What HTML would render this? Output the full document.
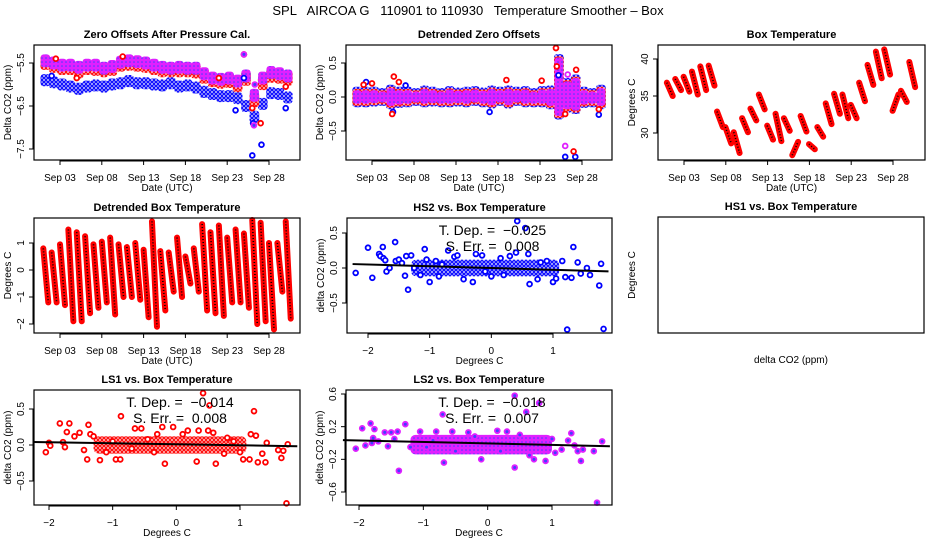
<!DOCTYPE html>
<html><head><meta charset="utf-8"><style>
body{margin:0;background:#fff}
svg{display:block;font-family:"Liberation Sans",sans-serif}
</style></head><body>
<svg id="c" width="936" height="540" viewBox="0 0 936 540" xmlns="http://www.w3.org/2000/svg">
<defs>
<pattern id="pRed" width="4" height="4" patternUnits="userSpaceOnUse"><rect width="4" height="4" fill="#fff"/><circle cx="2" cy="2" r="1.4" fill="none" stroke="#ff0000" stroke-width="1.2"/></pattern>
<pattern id="pBlue" width="4" height="4" patternUnits="userSpaceOnUse"><rect width="4" height="4" fill="#fff"/><circle cx="2" cy="2" r="1.4" fill="none" stroke="#0000ff" stroke-width="1.2"/></pattern>
<pattern id="pPur" width="4" height="4" patternUnits="userSpaceOnUse"><rect width="4" height="4" fill="#e020ff"/><circle cx="2" cy="2" r="0.8" fill="#4040ff"/></pattern>
</defs>
<text x="468" y="15" text-anchor="middle" font-size="13" style="white-space:pre">SPL   AIRCOA G   110901 to 110930   Temperature Smoother – Box</text>
</svg>
<script>
// ---------- data ----------
const dayTicks=[3,8,13,18,23,28];
const dayTickLabels=["Sep 03","Sep 08","Sep 13","Sep 18","Sep 23","Sep 28"];
const days=[1,2,3,4,5,6,7,8,9,10,11,12,13,14,15,16,17,18,19,20,21,22,23,24,25,26,27,28,29,30];
// panel 1 zero offsets (daily centers, ppm)
const zoPurple=[-5.45,-5.5,-5.55,-5.55,-5.6,-5.55,-5.55,-5.62,-5.58,-5.48,-5.45,-5.47,-5.5,-5.55,-5.6,-5.62,-5.6,-5.62,-5.62,-5.75,-5.85,-5.88,-5.85,-5.92,-5.8,-6.25,-5.85,-5.72,-5.75,-5.8];
const zoRed=[-5.48,-5.55,-5.6,-5.6,-5.68,-5.6,-5.62,-5.65,-5.62,-5.52,-5.5,-5.52,-5.55,-5.6,-5.65,-5.65,-5.65,-5.65,-5.68,-5.8,-5.88,-5.92,-5.9,-6.0,-5.85,-6.35,-5.95,-5.78,-5.8,-5.85];
const zoBlue=[-5.9,-5.95,-6.0,-6.05,-6.1,-6.05,-6.02,-6.05,-6.0,-5.97,-5.92,-5.97,-5.97,-6.0,-6.02,-5.97,-6.05,-6.02,-6.07,-6.17,-6.22,-6.27,-6.27,-6.32,-6.5,-6.75,-6.45,-6.2,-6.22,-6.3];
const zoBlueOutX=[26.0,27.1,24.0,26.1,30.0,25.0,2.0];
const zoBlueOutY=[-7.65,-7.4,-6.6,-6.9,-6.55,-5.85,-5.8];
const zoRedOutX=[26.0,27.0,22.0,5.0,2.5,10.5,25.0,30.0];
const zoRedOutY=[-6.55,-6.9,-5.85,-5.85,-5.4,-5.35,-5.3,-6.05];
const zoPurOutX=[25.0,26.2,26.3];
const zoPurOutY=[-5.3,-6.95,-6.0];
// panel 2 detrended (daily low/high)
const dtLow=[-0.12,-0.12,-0.11,-0.1,-0.15,-0.13,-0.12,-0.1,-0.12,-0.11,-0.12,-0.12,-0.11,-0.12,-0.1,-0.12,-0.14,-0.1,-0.14,-0.1,-0.12,-0.12,-0.12,-0.15,-0.3,-0.2,-0.22,-0.13,-0.12,-0.15];
const dtHigh=[0.12,0.12,0.12,0.1,0.15,0.12,0.12,0.1,0.14,0.12,0.1,0.13,0.11,0.12,0.13,0.11,0.14,0.12,0.14,0.12,0.13,0.1,0.13,0.14,0.6,0.25,0.3,0.12,0.1,0.15];
const dtRedOutX=[5.4,5.6,6.2,3.0,2.0,24.9,25.0,26.0,27.0,27.3,30.0,19.0,23.2];
const dtRedOutY=[-0.25,0.3,0.22,0.2,0.18,0.72,0.45,-0.25,-0.8,0.4,-0.18,0.25,0.24];
const dtBlueOutX=[26.0,27.2,25.2,2.3,5.5,30.0,17.0,7.0];
const dtBlueOutY=[-0.88,-0.88,0.32,0.22,-0.22,-0.26,-0.22,0.17];
const dtPurOutX=[26.0,26.3];
const dtPurOutY=[-0.72,0.33];
// panel 3 box temperature (daily start/end)
const btStart=[36.8,37.3,37.6,38.3,39.0,39.1,32.9,30.8,30.1,32.0,33.3,35.2,31.0,32.6,32.0,27.0,32.3,28.5,30.8,34.0,35.3,35.2,33.8,36.8,39.2,41.0,41.3,33.0,35.7,39.6];
const btEnd=[35.0,35.8,35.6,35.2,35.8,36.4,30.8,28.6,27.3,30.1,31.7,33.2,29.1,28.9,30.3,28.8,30.2,27.8,29.5,31.2,32.6,32.0,32.0,34.3,36.5,37.4,37.9,35.2,34.2,36.2];
// panel 4 detrended box temp (daily high/low)
const dbHigh=[0.8,0.65,0.95,1.5,1.4,1.25,0.95,1.05,1.2,0.95,0.85,1.0,0.75,1.8,0.7,0.65,1.2,0.5,0.8,1.7,1.4,1.65,1.2,1.5,1.35,1.85,1.75,1.0,1.0,1.8];
const dbLow=[-1.2,-1.2,-1.3,-1.9,-1.9,-1.6,-1.4,-1.2,-1.65,-1.0,-1.0,-1.1,-1.75,-2.1,-1.5,-0.8,-1.0,-0.5,-0.8,-1.5,-1.6,-1.7,-1.2,-1.2,-1.4,-2.0,-1.9,-2.2,-0.8,-1.8];
// HS2 scatter
const hsX=[-2.2,-2.0,-1.93,-1.82,-1.8,-1.76,-1.75,-1.72,-1.7,-1.65,-1.56,-1.55,-1.5,-1.45,-1.4,-1.38,-1.35,-1.3,-1.25,-1.15,-1.08,-1.05,-1.0,-0.9,-0.7,-0.6,-0.55,-0.45,-0.3,-0.25,-0.15,0.0,0.15,0.3,0.4,0.42,0.55,0.6,0.62,0.75,0.9,1.0,1.05,1.15,1.2,1.23,1.3,1.33,1.4,1.45,1.6,1.75,1.78,1.82,1.55,-0.85,-0.8,0.8,0.2,-0.1];
const hsY=[-0.07,0.29,-0.14,0.2,0.17,0.3,0.14,0.11,-0.05,0.0,0.37,0.1,0.12,0.07,-0.11,0.17,-0.31,0.18,0.0,-0.1,0.27,0.12,-0.2,0.1,0.25,0.16,0.18,-0.16,-0.2,0.2,0.18,-0.12,0.14,0.17,0.22,0.67,0.57,0.2,-0.23,-0.16,0.1,-0.2,-0.15,0.1,-0.13,-0.88,-0.14,0.3,0.08,-0.08,-0.1,-0.25,0.06,-0.87,0.0,-0.12,0.05,0.08,-0.1,-0.05];
const hsCoreX=[-1.3,1.1], hsCoreY=[-0.12,0.12];
const hsFit=[0.0,-0.025], hsText=["T. Dep. =  −0.025","S. Err. =  0.008"];
// LS1 scatter
const l1X=[-2.05,-2.0,-1.98,-1.83,-1.78,-1.75,-1.72,-1.68,-1.6,-1.52,-1.45,-1.4,-1.38,-1.35,-1.3,-1.2,-1.1,-0.95,-0.88,-0.87,-0.65,-0.55,-0.35,-0.3,-0.22,-0.18,-0.05,0.18,0.32,0.35,0.42,0.5,0.52,0.58,0.62,0.75,0.8,1.0,1.05,1.15,1.17,1.22,1.25,1.28,1.35,1.4,1.42,1.6,1.65,1.68,1.75,1.73,0.1,-0.45,0.9,-1.0,-0.7];
const l1Y=[-0.1,0.03,-0.01,0.3,0.04,-0.03,0.18,0.3,0.12,0.17,-0.07,-0.2,0.28,0.15,0.12,-0.21,-0.1,-0.2,-0.2,0.4,0.23,0.23,-0.1,0.15,0.25,-0.26,0.25,0.2,-0.23,0.2,0.72,0.2,0.55,0.17,-0.26,-0.12,0.1,-0.1,-0.2,-0.2,0.15,0.47,0.13,-0.24,-0.12,-0.24,0.03,-0.07,-0.18,-0.08,0.01,-0.81,0.15,0.08,0.05,0.05,-0.05];
const l1CoreX=[-1.3,1.1], l1CoreY=[-0.12,0.12];
const l1Fit=[0.01,-0.014], l1Text=["T. Dep. =  −0.014","S. Err. =  0.008"];
// LS2 scatter
const l2X=[-2.05,-1.95,-1.9,-1.82,-1.8,-1.78,-1.76,-1.7,-1.6,-1.55,-1.5,-1.45,-1.4,-1.38,-1.28,-1.2,-1.05,-0.95,-0.8,-0.7,-0.68,-0.55,-0.5,-0.3,-0.1,0.15,0.2,0.3,0.42,0.42,0.6,0.8,0.65,0.72,0.9,1.05,1.15,1.25,1.3,1.35,1.4,1.45,1.48,1.65,1.7,1.78,-0.85,0.5,-0.2,1.0];
const l2Y=[-0.07,0.18,-0.03,0.24,0.0,0.06,0.17,0.02,0.13,-0.04,0.13,0.05,0.14,-0.34,0.23,-0.05,0.14,-0.05,0.14,0.35,-0.24,0.14,-0.1,0.13,-0.2,0.15,-0.1,0.14,0.58,-0.3,0.38,0.49,-0.15,-0.2,-0.22,-0.12,-0.08,0.03,0.12,-0.03,-0.1,-0.22,-0.08,-0.1,-0.73,0.02,0.03,0.1,0.08,0.05];
const l2CoreX=[-1.2,1.0], l2CoreY=[-0.14,0.1];
const l2Fit=[-0.005,-0.018], l2Text=["T. Dep. =  −0.018","S. Err. =  0.007"];

// ---------- drawing ----------
const svg=document.getElementById('c');
const NS='http://www.w3.org/2000/svg';
function mk(tag,attrs,parent,txt){const e=document.createElementNS(NS,tag);for(const k in attrs)e.setAttribute(k,attrs[k]);if(txt!==undefined)e.textContent=txt;(parent||svg).appendChild(e);return e;}
function lin(d0,d1,p0,p1){return v=>p0+(v-d0)*(p1-p0)/(d1-d0);}

function panel(name,P,title){
  const g=mk('g',{});
  
  
  const t=mk('text',{x:(P.L+P.R)/2,y:P.T-7,'text-anchor':'middle','font-size':11,'font-weight':'bold'},g,title);
  
  
  return g;
}
function frame(g,P,name){
  const r=mk('rect',{x:P.L,y:P.T,width:P.R-P.L,height:P.B-P.T,fill:'none',stroke:'#000','stroke-width':1.2},g);
  
  
}
function xAxis(g,P,sx,vals,labels,title,name){
  const a=mk('g',{},g);
  
  
  const xs=vals.map(sx);
  mk('line',{x1:xs[0],x2:xs[xs.length-1],y1:P.B+1,y2:P.B+1,stroke:'#000'},a);
  vals.forEach((v,i)=>{const x=sx(v);mk('line',{x1:x,x2:x,y1:P.B,y2:P.B+5,stroke:'#000'},a);
    mk('text',{x:x,y:P.B+21,'text-anchor':'middle','font-size':10},a,labels[i]);});
  const t=mk('text',{x:(P.L+P.R)/2,y:P.B+31,'text-anchor':'middle','font-size':10},g,title);
  
  
}
function yAxis(g,P,sy,vals,labels,title,name){
  const a=mk('g',{},g);
  
  
  if(vals.length){
  const ys=vals.map(sy);
  mk('line',{x1:P.L-1,x2:P.L-1,y1:ys[0],y2:ys[ys.length-1],stroke:'#000'},a);
  vals.forEach((v,i)=>{const y=sy(v);mk('line',{x1:P.L-5,x2:P.L,y1:y,y2:y,stroke:'#000'},a);
    mk('text',{x:P.L-10,y:y,'text-anchor':'middle','font-size':10,transform:`rotate(-90 ${P.L-10} ${y})`},a,labels[i]);});
  }
  const cx=P.L-23, cy=(P.T+P.B)/2;
  const t=mk('text',{x:cx,y:cy,'text-anchor':'middle','font-size':10,transform:`rotate(-90 ${cx} ${cy})`},g,title);
  
  
}
function pts(g,xs,ys,sx,sy,color,name,fill){
  const s=mk('g',{},g);
  
  
  xs.forEach((x,i)=>{mk('circle',{cx:sx(x),cy:sy(ys[i]),r:2.4,fill:fill||'#fff',stroke:color,'stroke-width':1.8},s);});
}
function band(g,ds,lo,hi,sx,sy,pat,name,hw){
  const s=mk('g',{},g);
  
  
  ds.forEach((d,i)=>{const x0=sx(d+0.25-hw),x1=sx(d+0.25+hw);const y0=sy(hi[i]),y1=sy(lo[i]);
    mk('rect',{x:x0,y:y0,width:x1-x0,height:Math.max(2,y1-y0),fill:`url(#${pat})`,rx:3},s);});
}

// Panel 1
{const P={L:34,R:300,T:45,B:160};const sx=lin(3,28,60,269),sy=lin(-5.5,-7.5,63,149);
 const g=panel('zero-offsets-panel',P,'Zero Offsets After Pressure Cal.');
 band(g,days,zoBlue.map(v=>v-0.14),zoBlue.map(v=>v+0.14),sx,sy,'pBlue','hs2-series',0.58);
 band(g,days,zoRed.map(v=>v-0.18),zoRed.map(v=>v+0.17),sx,sy,'pRed','ls1-series',0.58);
 band(g,days,zoPurple.map(v=>v-0.15),zoPurple.map(v=>v+0.15),sx,sy,'pPur','ls2-series',0.55);
 pts(g,zoBlueOutX,zoBlueOutY,sx,sy,'#0000ff','hs2-outliers');
 pts(g,zoRedOutX,zoRedOutY,sx,sy,'#ff0000','ls1-outliers');
 pts(g,zoPurOutX,zoPurOutY,sx,sy,'#e020ff','ls2-outliers','#4040ff');
 frame(g,P,'zero-offsets');
 xAxis(g,P,sx,dayTicks,dayTickLabels,'Date (UTC)','zero-offsets');
 yAxis(g,P,sy,[-5.5,-6.5,-7.5],['−5.5','−6.5','−7.5'],'Delta CO2 (ppm)','zero-offsets');}

// Panel 2
{const P={L:346,R:612,T:45,B:160};const sx=lin(3,28,372,582),sy=lin(0,0.5,97,63);
 const g=panel('detrended-offsets-panel',P,'Detrended Zero Offsets');
 band(g,days,dtLow.map(v=>v-0.03),dtHigh.map(v=>v+0.03),sx,sy,'pBlue','hs2-detrended',0.58);
 band(g,days,dtLow.map(v=>v-0.01),dtHigh,sx,sy,'pRed','ls1-detrended',0.58);
 band(g,days,dtLow.map(v=>v+0.02),dtHigh.map(v=>v-0.02),sx,sy,'pPur','ls2-detrended',0.52);
 pts(g,dtBlueOutX,dtBlueOutY,sx,sy,'#0000ff','hs2-detrended-outliers');
 pts(g,dtRedOutX,dtRedOutY,sx,sy,'#ff0000','ls1-detrended-outliers');
 pts(g,dtPurOutX,dtPurOutY,sx,sy,'#e020ff','ls2-detrended-outliers');
 frame(g,P,'detrended-offsets');
 xAxis(g,P,sx,dayTicks,dayTickLabels,'Date (UTC)','detrended-offsets');
 yAxis(g,P,sy,[0.5,0,-0.5],['0.5','0.0','−0.5'],'Delta CO2 (ppm)','detrended-offsets');}

// Panel 3
{const P={L:658,R:925,T:45,B:160};const sx=lin(3,28,684,893),sy=lin(40,30,59,133);
 const g=panel('box-temperature-panel',P,'Box Temperature');
 const s=mk('g',{},g);
 
 
 days.forEach((d,i)=>{const x0=sx(d-0.05),x1=sx(d+0.65),y0=sy(btStart[i]),y1=sy(btEnd[i]);
   mk('line',{x1:x0,y1:y0,x2:x1,y2:y1,stroke:'#ff0000','stroke-width':6,'stroke-linecap':'round'},s);
   mk('line',{x1:x0,y1:y0,x2:x1,y2:y1,stroke:'#000','stroke-width':1.6,'stroke-dasharray':'1 2'},s);});
 frame(g,P,'box-temperature');
 xAxis(g,P,sx,dayTicks,dayTickLabels,'Date (UTC)','box-temperature');
 yAxis(g,P,sy,[30,35,40],['30','35','40'],'Degrees C','box-temperature');}

// Panel 4
{const P={L:34,R:300,T:218,B:333};const sx=lin(3,28,60,269),sy=lin(0,1,270,243);
 const g=panel('detrended-box-temperature-panel',P,'Detrended Box Temperature');
 const s=mk('g',{},g);
 
 
 days.forEach((d,i)=>{const x0=sx(d),x1=sx(d+0.6),y0=sy(dbHigh[i]),y1=sy(dbLow[i]);
   mk('line',{x1:x0,y1:y0,x2:x1,y2:y1,stroke:'#ff0000','stroke-width':6,'stroke-linecap':'round'},s);
   mk('line',{x1:x0,y1:y0,x2:x1,y2:y1,stroke:'#000','stroke-width':1.6,'stroke-dasharray':'1 2'},s);});
 frame(g,P,'detrended-box-temperature');
 xAxis(g,P,sx,dayTicks,dayTickLabels,'Date (UTC)','detrended-box-temperature');
 yAxis(g,P,sy,[1,0,-1,-2],['1','0','−1','−2'],'Degrees C','detrended-box-temperature');}

function scatterPanel(name,P,title,sx,sy,X,Y,cx,cy,fit,txt,color,pat,fill,yv,yl){
  const g=panel(name,P,title);
  const c=mk('rect',{x:sx(cx[0]),y:sy(cy[1]),width:sx(cx[1])-sx(cx[0]),height:sy(cy[0])-sy(cy[1]),fill:`url(#${pat})`,rx:5},g);
  
  
  pts(g,X,Y,sx,sy,color,name+'-points',fill);
  const xa=-2.25,xb=1.9;
  const l=mk('line',{x1:sx(xa),y1:sy(fit[0]+fit[1]*xa),x2:sx(xb),y2:sy(fit[0]+fit[1]*xb),stroke:'#000','stroke-width':2},g);
  
  
  const mx=(P.L+P.R)/2+13;
  const t1=mk('text',{x:mx,y:P.T+17,'text-anchor':'middle','font-size':14,style:'white-space:pre'},g,txt[0]);
  
  
  const t2=mk('text',{x:mx,y:P.T+33,'text-anchor':'middle','font-size':14,style:'white-space:pre'},g,txt[1]);
  
  
  frame(g,P,name);
  xAxis(g,P,sx,[-2,-1,0,1],['−2','−1','0','1'],'Degrees C',name);
  yAxis(g,P,sy,yv,yl,'delta CO2 (ppm)',name);
}
scatterPanel('hs2-vs-temp-panel',{L:347,R:612,T:218,B:333},'HS2 vs. Box Temperature',lin(-2,1,368,553),lin(0,0.5,268,233),hsX,hsY,hsCoreX,hsCoreY,hsFit,hsText,'#0000ff','pBlue','#fff',[0.5,0,-0.5],['0.5','0.0','−0.5']);
scatterPanel('ls1-vs-temp-panel',{L:34,R:300,T:390,B:505},'LS1 vs. Box Temperature',lin(-2,1,49,240),lin(0,0.5,445,409),l1X,l1Y,l1CoreX,l1CoreY,l1Fit,l1Text,'#ff0000','pRed','#fff',[0.5,0,-0.5],['0.5','0.0','−0.5']);
scatterPanel('ls2-vs-temp-panel',{L:346,R:612,T:390,B:505},'LS2 vs. Box Temperature',lin(-2,1,359,552),lin(0.6,-0.6,394,492),l2X,l2Y,l2CoreX,l2CoreY,l2Fit,l2Text,'#e020ff','pPur','#4040ff',[0.6,0.2,-0.2,-0.6],['0.6','0.2','−0.2','−0.6']);

// HS1 empty panel
{const P={L:658,R:924,T:217,B:333};
 const g=panel('hs1-vs-temp-panel',P,'HS1 vs. Box Temperature');
 frame(g,P,'hs1-vs-temp');
 const t=mk('text',{x:(P.L+P.R)/2,y:P.B+30,'text-anchor':'middle','font-size':10},g,'delta CO2 (ppm)');
 
 
 yAxis(g,P,v=>v,[],[],'Degrees C','hs1-vs-temp');}
</script>
</body></html>
